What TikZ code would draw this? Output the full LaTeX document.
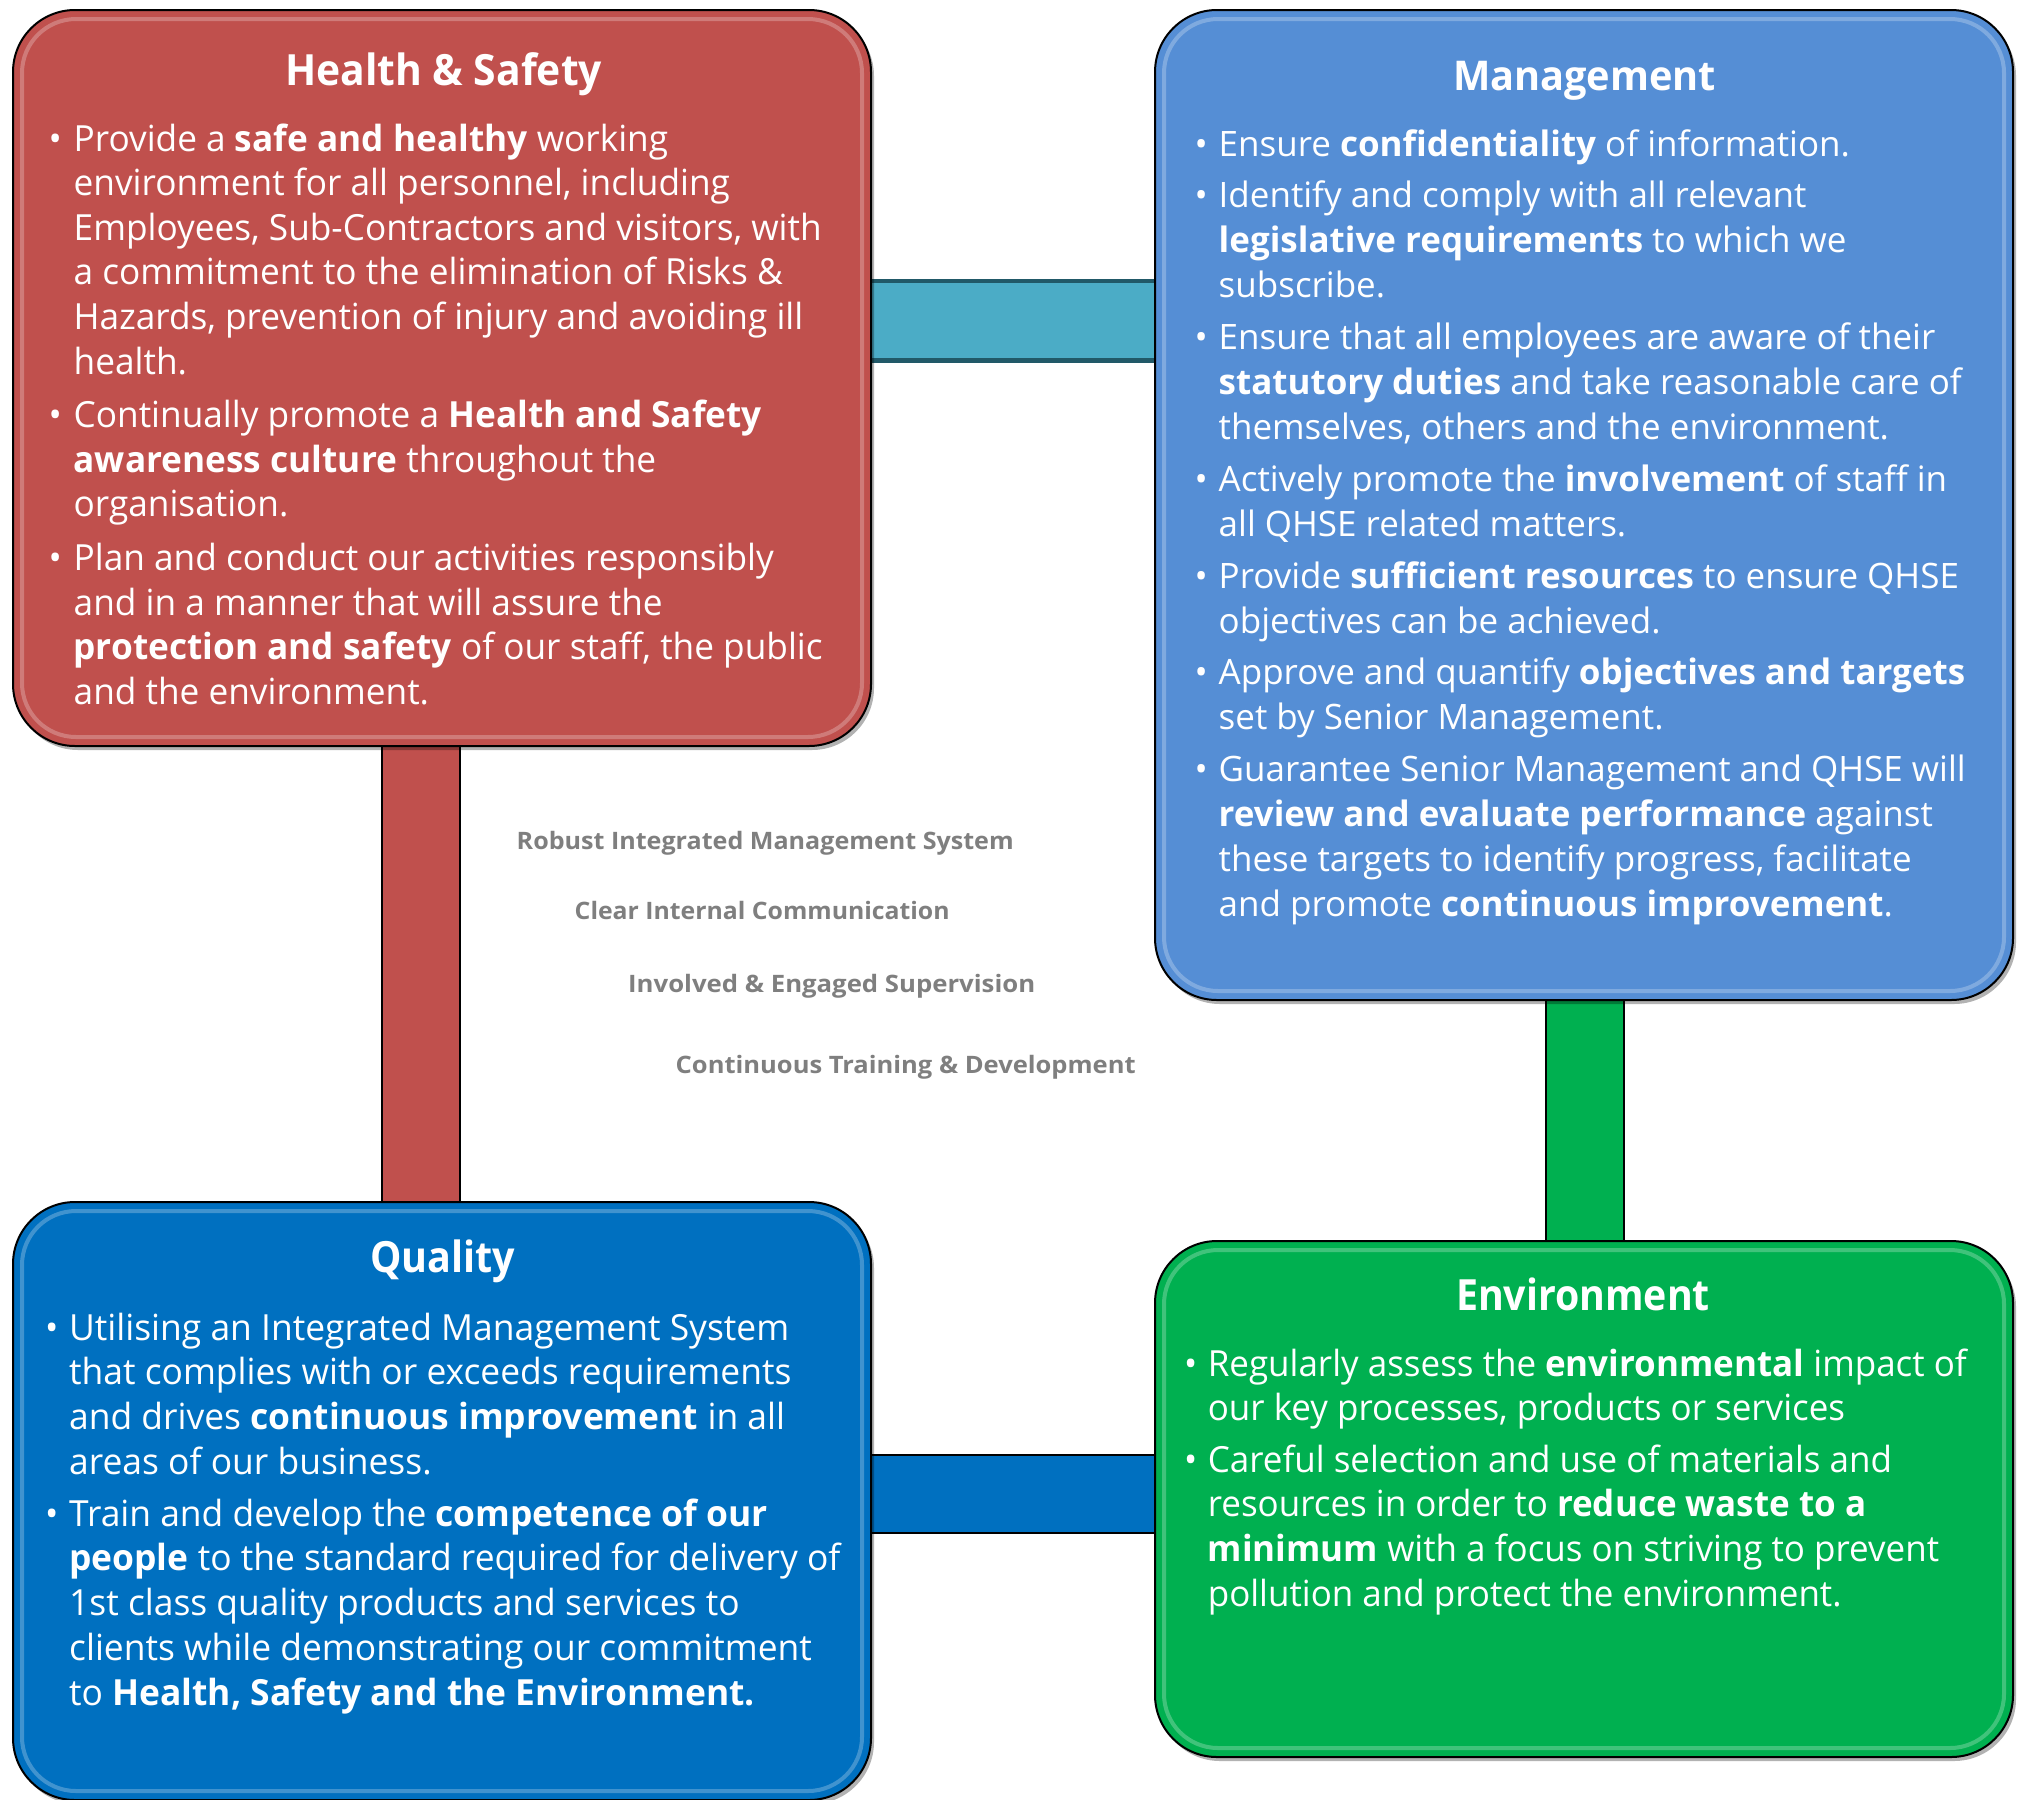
\documentclass[tikz,border=0pt]{standalone}
\usepackage{fontspec}
\usepackage{graphicx}
\usepackage{xfp}
\setmainfont{Open Sans}
\usetikzlibrary{shadows}

\definecolor{hsred}{HTML}{C0504D}
\definecolor{mgblue}{HTML}{558ED5}
\definecolor{qblue}{HTML}{0070C0}
\definecolor{engreen}{HTML}{00B050}
\definecolor{tealfill}{HTML}{4BACC6}
\definecolor{tealdark}{HTML}{215968}
\definecolor{labelgray}{HTML}{7F7F7F}

\newlength\mylen
\newcommand\mkfac[4]{%
  \settowidth\mylen{\fontsize{#2}{#2}\selectfont #4}%
  \edef#1{\fpeval{round(#3/\mylen,4)}}}

\mkfac{\hsfac}{36}{748pt}{Employees, Sub-Contractors and visitors, with}
\mkfac{\mgfac}{35}{716.6pt}{Ensure that all employees are aware of their}
\mkfac{\qufac}{36}{720pt}{Utilising an Integrated Management System}
\mkfac{\enfac}{36}{759pt}{Regularly assess the \textbf{environmental} impact of}

\newsavebox\fitbox
\newcommand\fitto[2]{\sbox\fitbox{#2}\setlength\mylen{\wd\fitbox}%
  \edef\myfac{\fpeval{round(#1/\mylen,4)}}\scalebox{\myfac}[1]{\usebox\fitbox}}

% #1 factor, #2 hang indent in final pt, #3 content
\newlength\bind
\newcommand\bodybox[3]{\scalebox{#1}[1]{\parbox[t]{1000pt}{\setlength\bind{\fpeval{round(#2/#1,3)}pt}#3}}}
\newcommand\bpara[1]{\par\hangindent=\bind\hangafter=1\noindent\makebox[\bind][l]{\textbullet}\ignorespaces#1}

\tikzset{
  box/.style={draw=black, line width=2pt, rounded corners=62pt, outer sep=0pt,
    minimum width=858pt, drop shadow={shadow xshift=3pt, shadow yshift=-4pt, opacity=0.3, fill=black}},
  gloss/.style={draw=white, line width=4pt, opacity=0.25, rounded corners=54pt},
  bodytext/.style={anchor=base west, inner sep=0pt, text=white},
  headtext/.style={anchor=base, inner sep=0pt, text=white},
  graylabel/.style={anchor=base west, inner sep=0pt, text=labelgray},
  bar/.style={line width=2pt, draw=black, double distance=76pt},
  place/.style={minimum width=858pt, outer sep=0pt, inner sep=0pt},
}

\begin{document}
\begin{tikzpicture}[x=1pt,y=-1pt]
\useasboundingbox (0,0) rectangle (2023,1799);

% box positions
\path (442,378) node[place, minimum height=736pt] (hsP) {};
\path (1584,505) node[place, minimum height=990pt] (mgP) {};
\path (442,1501) node[place, minimum height=598pt] (quP) {};
\path (1584,1499) node[place, minimum height=516pt] (enP) {};

% connectors
\coordinate (tA) at ([yshift=57.5pt]hsP.east);
\draw[line width=4.5pt, draw=tealdark, double=tealfill, double distance=75pt] (tA) -- (tA -| mgP.west);
\coordinate (rA) at ([xshift=-21.3pt]hsP.south);
\draw[bar, double=hsred] (rA) -- (rA |- quP.north);
\coordinate (gA) at ([xshift=0.5pt]mgP.south);
\draw[bar, double=engreen] (gA) -- (gA |- enP.north);
\coordinate (bA) at ([yshift=5pt]enP.west);
\draw[bar, double=qblue] (bA -| quP.east) -- (bA);

% boxes
\node[box, fill=hsred, minimum height=736pt] (hs) at (hsP) {};
\node[box, fill=mgblue, minimum height=990pt] (mg) at (mgP) {};
\node[box, fill=qblue, minimum height=598pt] (qu) at (quP) {};
\node[box, fill=engreen, minimum height=516pt] (en) at (enP) {};
\foreach \b in {hs,mg,qu,en}{
  \draw[gloss] ([shift={(9,9)}]\b.north west) rectangle ([shift={(-9,-9)}]\b.south east);
}

% headings
\node[headtext] (hsH) at (443.5,85) {\fitto{317pt}{\bfseries\fontsize{43}{50}\selectfont Health \& Safety}};
\node[headtext] (mgH) at (1584.5,90) {\fitto{263pt}{\bfseries\fontsize{41}{50}\selectfont Management}};
\node[headtext] (quH) at (442.5,1272) {\fitto{145pt}{\bfseries\fontsize{43}{50}\selectfont Quality}};
\node[headtext] (enH) at (1583,1310) {\fitto{254pt}{\bfseries\fontsize{43}{50}\selectfont Environment}};

% body texts
\node[bodytext] (hsT) at (48.5,151) {\bodybox{\hsfac}{25}{\fontsize{36}{44.6}\selectfont\setlength\parskip{9pt}%
\bpara{Provide a \textbf{safe and healthy} working\\ environment for all personnel, including\\ Employees, Sub-Contractors and visitors, with\\ a commitment to the elimination of Risks \&\\ Hazards, prevention of injury and avoiding ill\\ health.}
\bpara{Continually promote a \textbf{Health and Safety}\\ \textbf{awareness culture} throughout the\\ organisation.}
\bpara{Plan and conduct our activities responsibly\\ and in a manner that will assure the\\ \textbf{protection and safety} of our staff, the public\\ and the environment.}}};

\node[bodytext] (mgT) at (1194.5,156) {\bodybox{\mgfac}{24}{\fontsize{35}{44.9}\selectfont\setlength\parskip{7pt}%
\bpara{Ensure \textbf{confidentiality} of information.}
\bpara{Identify and comply with all relevant\\ \textbf{legislative requirements} to which we\\ subscribe.}
\bpara{Ensure that all employees are aware of their\\ \textbf{statutory duties} and take reasonable care of\\ themselves, others and the environment.}
\bpara{Actively promote the \textbf{involvement} of staff in\\ all QHSE related matters.}
\bpara{Provide \textbf{sufficient resources} to ensure QHSE\\ objectives can be achieved.}
\bpara{Approve and quantify \textbf{objectives and targets}\\ set by Senior Management.}
\bpara{Guarantee Senior Management and QHSE will\\ \textbf{review and evaluate performance} against\\ these targets to identify progress, facilitate\\ and promote \textbf{continuous improvement}.}}};

\node[bodytext] (quT) at (44.9,1340) {\bodybox{\qufac}{24.1}{\fontsize{36}{44.8}\selectfont\setlength\parskip{6.8pt}%
\bpara{Utilising an Integrated Management System\\ that complies with or exceeds requirements\\ and drives \textbf{continuous improvement} in all\\ areas of our business.}
\bpara{Train and develop the \textbf{competence of our}\\ \textbf{people} to the standard required for delivery of\\ 1st class quality products and services to\\ clients while demonstrating our commitment\\ to \textbf{Health, Safety and the Environment.}}}};

\node[bodytext] (enT) at (1183.9,1376) {\bodybox{\enfac}{23.7}{\fontsize{36}{44.6}\selectfont\setlength\parskip{7pt}%
\bpara{Regularly assess the \textbf{environmental} impact of\\ our key processes, products or services}
\bpara{Careful selection and use of materials and\\ resources in order to \textbf{reduce waste to a}\\ \textbf{minimum} with a focus on striving to prevent\\ pollution and protect the environment.}}};

% centre labels
\node[graylabel] (l1) at (516.5,849) {\fitto{497pt}{\bfseries\fontsize{24}{28}\selectfont Robust Integrated Management System}};
\node[graylabel] (l2) at (574.5,919) {\fitto{375pt}{\bfseries\fontsize{24}{28}\selectfont Clear Internal Communication}};
\node[graylabel] (l3) at (628,992) {\fitto{407pt}{\bfseries\fontsize{24}{28}\selectfont Involved \& Engaged Supervision}};
\node[graylabel] (l4) at (675.5,1073) {\fitto{460pt}{\bfseries\fontsize{24}{28}\selectfont Continuous Training \& Development}};
\end{tikzpicture}
\end{document}
